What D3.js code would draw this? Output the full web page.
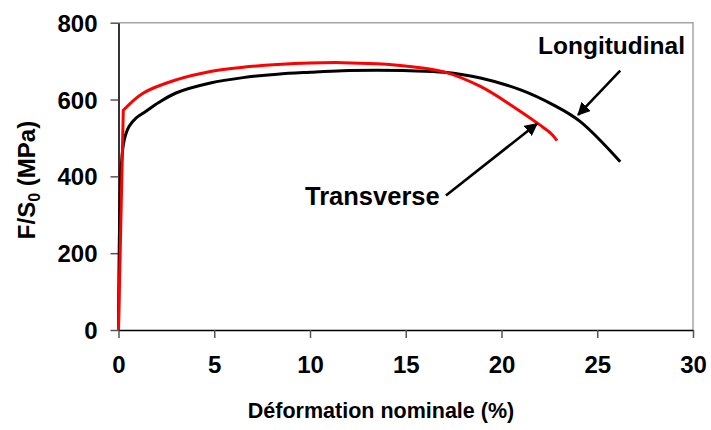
<!DOCTYPE html>
<html><head><meta charset="utf-8">
<script src="https://cdn.jsdelivr.net/npm/d3@7"></script>
<style>
html,body{margin:0;padding:0;background:#fff;}
text{font-family:"Liberation Sans",Arial,sans-serif;font-weight:bold;fill:#000;}
</style></head>
<body><svg id="c" width="711" height="430"></svg>
<script>
// Data: strain (%) and nominal stress F/S0 (MPa)
const longStrain = [0, 0.15, 0.3, 0.55, 0.9, 1.4, 2.1, 3.0, 4.8, 6.5, 8.3, 10.0, 11.7, 13.5, 15.2, 17.0, 18.9, 21.0, 22.7, 24.1, 26.2];
const longStress = [0, 430, 495, 530, 551, 568, 592, 617, 643, 657, 666, 671, 675, 676, 675, 671, 656, 625, 586, 543, 438];
const transElasticStrain = [0, 0.25];
const transElasticStress = [0, 572];
const transStrain = [0.25, 1.3, 3.0, 4.8, 6.5, 8.3, 10.0, 11.7, 13.5, 15.2, 17.0, 18.9, 20.6, 22.0, 22.6, 22.9];
const transStress = [572, 617, 651, 673, 684, 691, 695, 696, 693, 686, 672, 634, 582, 534, 511, 493];
const xTicks = [0, 5, 10, 15, 20, 25, 30];
const yTicks = [0, 200, 400, 600, 800];
const labels = {x: "Déformation nominale (%)", long: "Longitudinal", trans: "Transverse"};

const svg = d3.select("#c");
const L = 118.5, R = 693, T = 22.7, B = 330;
const x = d3.scaleLinear().domain([0, 30]).range([L, R]);
const y = d3.scaleLinear().domain([0, 800]).range([B, T]);

// plot area border (gray top/right)
svg.append("path").attr("d", `M${L},${T}H${R}V${B}`).attr("fill", "none").attr("stroke", "#a6a6a6").attr("stroke-width", 1.5);

// axes
const xa = svg.append("g").attr("transform", `translate(0,${B})`)
  .call(d3.axisBottom(x).tickValues(xTicks).tickSize(8).tickSizeOuter(0).tickPadding(10).tickFormat(d3.format("d")));
const ya = svg.append("g").attr("transform", `translate(${L},0)`)
  .call(d3.axisLeft(y).tickValues(yTicks).tickSize(8).tickSizeOuter(0).tickPadding(13).tickFormat(d3.format("d")));
[xa, ya].forEach(g => {
  g.select(".domain").attr("stroke", "#000").attr("stroke-width", 1.6);
  g.selectAll(".tick line").attr("stroke", "#555").attr("stroke-width", 1.5);
  g.selectAll(".tick text").style("font-size", "24px").style("font-family", '"Liberation Sans",Arial,sans-serif').style("font-weight", "bold").attr("fill", "#000");
});
xa.selectAll(".tick text").attr("dy", "1.05em");
ya.selectAll(".tick text").attr("dy", "0.36em");

// curves
const lineSmooth = d3.line().x(d => x(d[0])).y(d => y(d[1])).curve(d3.curveCatmullRom.alpha(0.5));
const lineLin = d3.line().x(d => x(d[0])).y(d => y(d[1]));
const longData = longStrain.map((s, i) => [s, longStress[i]]);
const transE = transElasticStrain.map((s, i) => [s, transElasticStress[i]]);
const transP = transStrain.map((s, i) => [s, transStress[i]]);

svg.append("path").attr("d", lineSmooth(longData)).attr("fill", "none").attr("stroke", "#000").attr("stroke-width", 3);
svg.append("path").attr("d", lineLin(transE) + lineSmooth(transP).replace(/^M/, "L"))
  .attr("fill", "none").attr("stroke", "#ff0000").attr("stroke-width", 3).attr("stroke-linejoin", "miter");

// arrow marker
const defs = svg.append("defs");
defs.append("marker").attr("id", "ah").attr("viewBox", "0 0 10 10").attr("refX", 9).attr("refY", 5)
  .attr("markerWidth", 5).attr("markerHeight", 5).attr("markerUnits", "strokeWidth").attr("orient", "auto")
  .append("path").attr("d", "M0,0L10,5L0,10z").attr("fill", "#000");

// annotations (arrow ends defined in data coordinates)
const longArrow = [[26.2, 675], [24.0, 560]];
const transArrow = [[17.1, 350], [21.85, 537]];
svg.append("line").attr("x1", x(longArrow[0][0])).attr("y1", y(longArrow[0][1]))
  .attr("x2", x(longArrow[1][0])).attr("y2", y(longArrow[1][1]))
  .attr("stroke", "#000").attr("stroke-width", 2.6).attr("marker-end", "url(#ah)");
svg.append("line").attr("x1", x(transArrow[0][0])).attr("y1", y(transArrow[0][1]))
  .attr("x2", x(transArrow[1][0])).attr("y2", y(transArrow[1][1]))
  .attr("stroke", "#000").attr("stroke-width", 2.6).attr("marker-end", "url(#ah)");

svg.append("text").attr("x", 685).attr("y", 53.5).attr("text-anchor", "end").style("font-size", "24.5px").text(labels.long);
svg.append("text").attr("x", 305).attr("y", 205).style("font-size", "25.5px").text(labels.trans);

// axis titles
svg.append("text").attr("x", 381).attr("y", 417.5).attr("text-anchor", "middle").style("font-size", "21.5px").text(labels.x);
const yt = svg.append("text").attr("transform", "translate(35,180) rotate(-90)").attr("text-anchor", "middle").style("font-size", "24px");
yt.append("tspan").text("F/S");
yt.append("tspan").attr("dy", 5).style("font-size", "16px").text("0");
yt.append("tspan").attr("dy", -5).text(" (MPa)");
</script></body></html>
